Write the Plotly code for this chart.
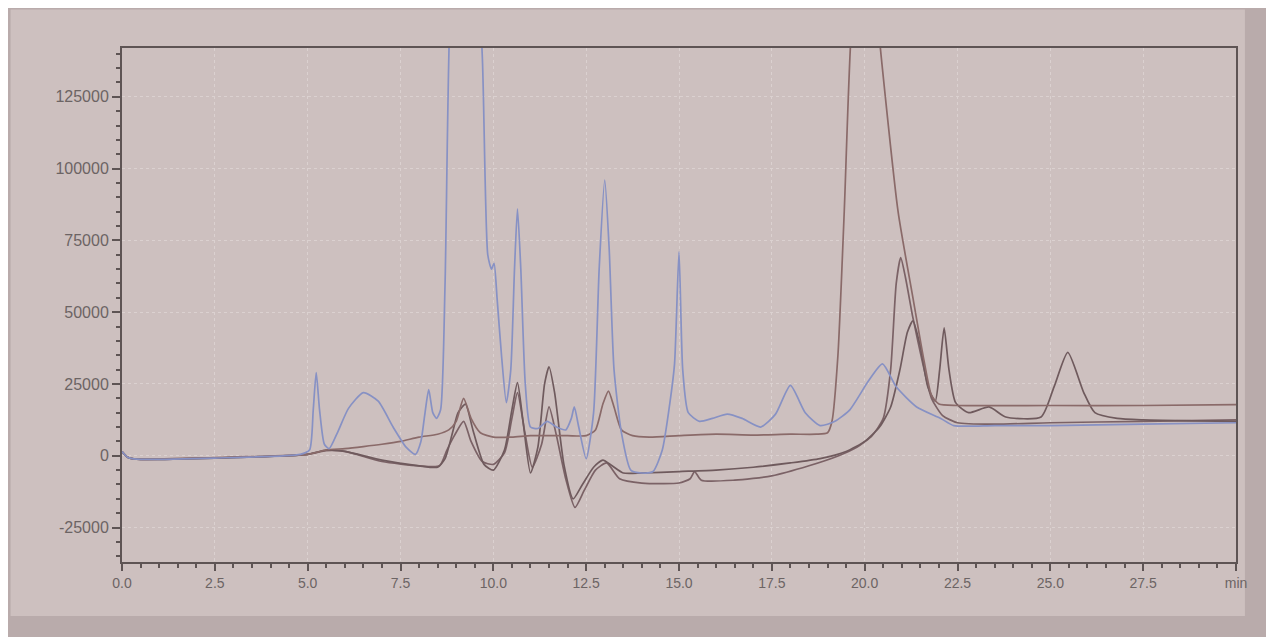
import plotly.graph_objects as go

# ---- data (time in min, signal) ----
t_blue = [0.0, 0.15, 0.4, 2.5, 4.8, 5.05, 5.15, 5.23, 5.32, 5.45, 5.58, 5.8, 6.1, 6.5, 6.9,
          7.3, 7.65, 7.9, 8.05, 8.15, 8.26, 8.37, 8.47, 8.58, 8.7, 8.85, 9.0, 9.5, 9.7, 9.85,
          9.95, 10.02, 10.1, 10.22, 10.35, 10.47, 10.57, 10.65, 10.74, 10.86, 11.0, 11.2,
          11.45, 11.7, 11.95, 12.1, 12.18, 12.3, 12.5, 12.7, 12.85, 13.0, 13.12, 13.25, 13.45,
          13.7, 14.0, 14.3, 14.55, 14.75, 14.88, 15.0, 15.1, 15.25, 15.55, 15.9, 16.3, 16.7,
          17.2, 17.6, 18.0, 18.4, 18.8, 19.2, 19.6, 20.1, 20.48, 20.85, 21.4, 22.05, 22.4,
          23.5, 25.0, 27.5, 30.0]
v_blue = [1500, -500, -1200, -800, 500, 2000, 16000, 29000, 16000, 4000, 2500, 8000, 16500,
          22000, 19000, 10000, 3000, 500, 5000, 14000, 23000, 15000, 13000, 16000, 60000,
          160000, 175000, 175000, 140000, 70000, 65000, 67000, 55000, 35000, 18500, 30000,
          65000, 86000, 65000, 25000, 10000, 9500, 12000, 10000, 9000, 13000, 17000, 10000,
          -1000, 15000, 65000, 96000, 72000, 30000, 8000, -5000, -6000, -5500, 2000, 18000,
          32000, 71000, 30000, 15000, 12000, 13000, 14500, 13000, 10000, 14500, 24500, 15000,
          10500, 12000, 16000, 26000, 32000, 24000, 17000, 13000, 10500, 10500, 10500, 11000,
          11500]

t_b = [0.0, 0.15, 0.4, 2.5, 5.0, 5.5, 6.0, 6.5, 7.0, 7.5, 8.0, 8.5, 8.8, 9.0, 9.2, 9.4, 9.65,
       10.0, 10.5, 11.0, 11.5, 12.0, 12.5, 12.75, 12.95, 13.1, 13.25, 13.45, 13.75, 14.2, 15.0,
       16.0, 17.0, 18.0, 18.7, 19.0, 19.12, 19.28, 19.45, 19.65, 19.9, 20.2, 20.4, 20.9, 21.3,
       21.6, 21.8, 22.0, 22.5, 25.0, 27.5, 30.0]
v_b = [1500, -500, -1200, -600, 500, 2000, 2500, 3200, 4000, 5000, 6500, 7500, 9000, 12000,
       20000, 13000, 8000, 6500, 6500, 7000, 7000, 7000, 7000, 9000, 18000, 22500, 17000, 9000,
       7000, 6500, 7000, 7500, 7200, 7500, 7500, 8000, 12000, 35000, 85000, 150000, 175000,
       175000, 145000, 85000, 55000, 33000, 21000, 18000, 17500, 17500, 17500, 17800]

t_c = [0.0, 0.15, 0.4, 2.5, 5.0, 5.5, 6.0, 7.0, 8.0, 8.5, 8.7, 8.9, 9.05, 9.25, 9.45, 9.75,
       10.0, 10.3, 10.5, 10.65, 10.8, 11.0, 11.2, 11.38, 11.5, 11.65, 11.9, 12.15, 12.4, 12.7,
       12.95, 13.2, 13.5, 14.0, 15.0, 16.0, 17.0, 18.0, 18.8, 19.5, 20.0, 20.4, 20.7, 20.95,
       21.15, 21.3, 21.5, 21.7, 21.9, 22.02, 22.14, 22.27, 22.45, 22.8, 23.35, 23.8, 24.75,
       25.1, 25.47, 25.9, 26.2, 26.8, 27.5, 30.0]
v_c = [1500, -500, -1200, -800, 500, 2000, 1500, -1500, -3500, -4000, -1000, 8000, 15000,
       18000, 9000, -3000, -5000, 2000, 16000, 25500, 12000, -6000, 3000, 25000, 31000, 22000,
       -3000, -15000, -10000, -4000, -1500, -3500, -6000, -6000, -5500, -5000, -4000, -2500,
       -1000, 1500, 5000, 10000, 17000, 30000, 43000, 47000, 38000, 24000, 19000, 30000, 44500,
       30000, 18500, 15000, 17000, 13500, 13500, 24000, 36000, 22000, 15000, 13000, 12500,
       12000]

t_d = [0.0, 0.15, 0.4, 2.5, 5.0, 5.5, 6.0, 7.0, 8.0, 8.55, 8.75, 8.95, 9.2, 9.4, 9.7, 10.0,
       10.3, 10.5, 10.65, 10.85, 11.05, 11.3, 11.5, 11.7, 11.95, 12.2, 12.45, 12.75, 13.05,
       13.4, 14.0, 15.0, 15.3, 15.42, 15.6, 16.5, 17.5, 18.5, 19.3, 19.8, 20.2, 20.5, 20.7,
       20.85, 20.97, 21.1, 21.3, 21.55, 21.8, 22.1, 22.5, 23.5, 25.0, 27.5, 30.0]
v_d = [1500, -500, -1200, -800, 500, 1800, 1500, -2000, -3500, -3500, 2000, 7000, 12000, 5000,
       -2000, -3000, 1000, 13000, 22000, 8000, -4000, 4000, 17000, 7000, -8000, -18000, -12000,
       -5000, -2500, -8000, -9500, -9500, -8000, -5500, -8500, -8500, -7000, -3500, 0, 3000,
       7000, 13000, 30000, 60000, 69000, 62000, 48000, 33000, 20000, 14000, 11500, 11000,
       11500, 12000, 12500]

x_ticks = [0.0, 2.5, 5.0, 7.5, 10.0, 12.5, 15.0, 17.5, 20.0, 22.5, 25.0, 27.5, 30.0]
x_labels = ["0.0", "2.5", "5.0", "7.5", "10.0", "12.5", "15.0", "17.5", "20.0", "22.5",
            "25.0", "27.5", "min"]
y_ticks = [-25000, 0, 25000, 50000, 75000, 100000, 125000]
y_labels = ["-25000", "0", "25000", "50000", "75000", "100000", "125000"]

series = [
    (t_d, v_d, "#7b6266"),
    (t_c, v_c, "#6f5a5d"),
    (t_b, v_b, "#8a6a69"),
    (t_blue, v_blue, "#8791c4"),
]

fig = go.Figure()
for tx, vy, col in series:
    fig.add_trace(go.Scatter(
        x=tx, y=vy, mode="lines",
        line=dict(color=col, width=1.7, shape="spline", smoothing=0.6),
        showlegend=False, hoverinfo="skip",
    ))

axis_col = "#5e5454"
label_col = "#6c6464"
grid_col = "#dbd1d0"

fig.update_layout(
    width=1274, height=637,
    margin=dict(l=114, r=46, t=40, b=83),
    paper_bgcolor="#b9abab",
    plot_bgcolor="#d5c9c8",
    shapes=[dict(type="rect", xref="paper", yref="paper", layer="below",
                 x0=-0.10, x1=1.008, y0=-0.105, y1=1.075,
                 fillcolor="#cdc0bf", line=dict(width=0))],
    font=dict(family="Liberation Sans, Arial, sans-serif", color=label_col),
)
fig.update_xaxes(
    range=[0, 30], tickvals=x_ticks, ticktext=x_labels,
    showline=True, linecolor=axis_col, linewidth=2, mirror=True,
    ticks="outside", ticklen=7, tickcolor=axis_col, tickwidth=1.5,
    tickfont=dict(size=14, color=label_col),
    minor=dict(dtick=0.5, tick0=0, ticks="outside", ticklen=4, tickcolor=axis_col,
               showgrid=False),
    showgrid=True, gridcolor=grid_col, griddash="dot", gridwidth=1,
    zeroline=False,
)
fig.update_yaxes(
    range=[-37000, 142000], tickvals=y_ticks, ticktext=y_labels,
    showline=True, linecolor=axis_col, linewidth=2, mirror=True,
    ticks="outside", ticklen=8, tickcolor=axis_col, tickwidth=1.5,
    tickfont=dict(size=16, color=label_col),
    minor=dict(dtick=5000, tick0=0, ticks="outside", ticklen=4, tickcolor=axis_col,
               showgrid=False),
    showgrid=True, gridcolor=grid_col, griddash="dot", gridwidth=1,
    zeroline=False,
)

fig.write_html("out.html")
